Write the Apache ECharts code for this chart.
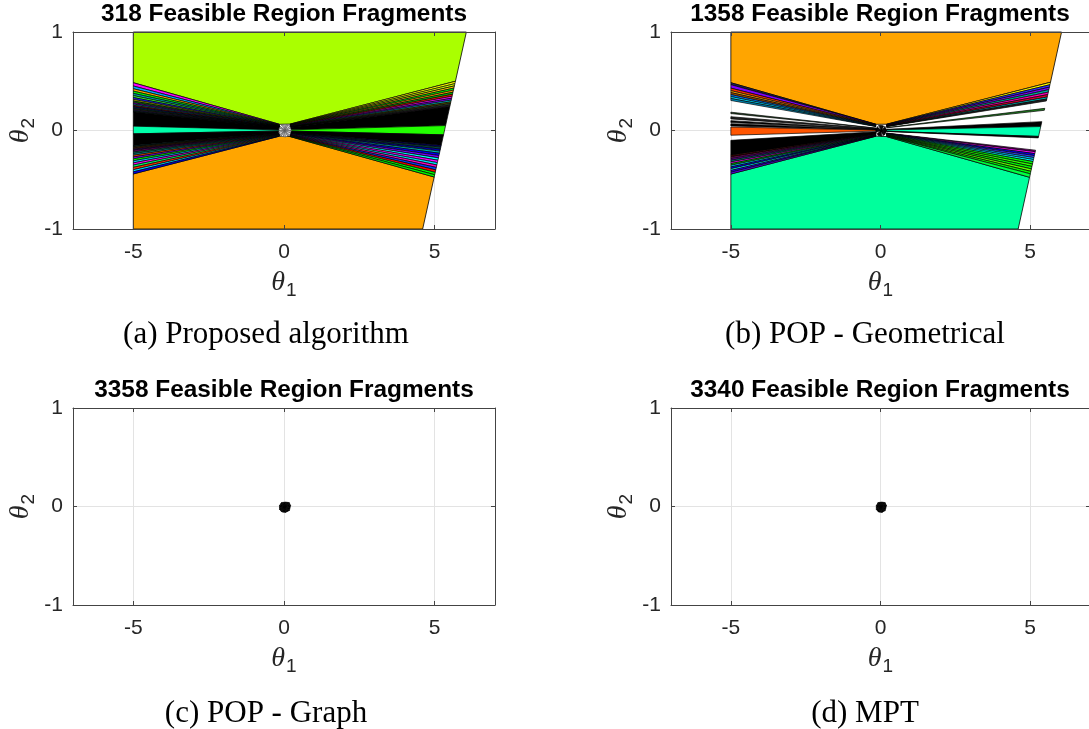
<!DOCTYPE html>
<html>
<head>
<meta charset="utf-8">
<script src="https://cdn.jsdelivr.net/npm/echarts@6/dist/echarts.min.js"></script>
<style>
  html, body { margin: 0; padding: 0; background: #ffffff; }
  #chart { width: 1089px; height: 729px; }
</style>
</head>
<body>
<div id="chart"></div>
<script>
// ---- shared axes ----
const xLimits = [-7, 7];
const yLimits = [-1, 1];
const xTickValues = [-5, 0, 5];
const yTickValues = [-1, 0, 1];

// parameter box: left side at theta1 = -5, slanted right side
const leftSideX = -5;
const rightSide = [[4.6, -1], [6.05, 1]];
// fragments converge to a small neck around the origin
const hubLeftX = -0.15;
const hubRightX = 0.2;
const neck = 0.13;

const panelTitles = [
  '318 Feasible Region Fragments',
  '1358 Feasible Region Fragments',
  '3358 Feasible Region Fragments',
  '3340 Feasible Region Fragments'
];
const panelCaptions = ['(a) Proposed algorithm', '(b) POP - Geometrical', '(c) POP - Graph', '(d) MPT'];

// ---- panel (a): proposed algorithm ----
const aUpperColor = '#AAFF00';
const aLowerColor = '#FFA500';
// region borders on the left side (theta1 = -5), top to bottom
const aLeftEdges = [0.485, 0.452, 0.424, 0.4, 0.377, 0.355, 0.335, 0.316, 0.299, 0.283, 0.269, 0.256, 0.244, 0.233, 0.222, 0.212, 0.2, 0.19,
  0.044, -0.034,
  -0.153, -0.164, -0.176, -0.189, -0.203, -0.218, -0.234, -0.251, -0.269, -0.288, -0.308, -0.329, -0.351, -0.374, -0.398, -0.42, -0.441];
const aLeftColors = ['#FF00FF', '#00AAFF', '#FFA500', '#00FF00', '#00A8A8', '#33FF33', '#2020FF', '#A0A000', '#008800', '#7000C0', '#00A0C0', '#C02000', '#0000C0', '#006060', '#505000', '#302060', '#003030',
  '#000000', '#00FFAA', '#000000',
  '#003838', '#383800', '#602000', '#300060', '#800080', '#008060', '#00A0A0', '#FF4500', '#8000FF', '#00FF00', '#00CCFF', '#FF00FF', '#00FF66', '#FF3300', '#00E0FF', '#0000FF'];
// region borders on the slanted right side, top to bottom
const aRightEdges = [0.5, 0.476, 0.453, 0.431, 0.41, 0.389, 0.368, 0.348, 0.328, 0.309, 0.291, 0.274, 0.258, 0.243,
  0.05, -0.044, -0.15,
  -0.168, -0.188, -0.209, -0.231, -0.254, -0.278, -0.302, -0.326, -0.35, -0.375, -0.4, -0.425, -0.449, -0.472];
const aRightColors = ['#FFFF00', '#CCFF00', '#FFD000', '#00FF00', '#FFA500', '#00CC00', '#FF2000', '#FF00FF', '#8000FF', '#00C0C0', '#606000', '#305030', '#302030',
  '#000000', '#22FF00', '#000000',
  '#000060', '#004848', '#0000B0', '#00B0B0', '#0000FF', '#8000FF', '#00FFFF', '#FF00FF', '#00E0FF', '#FF00C0', '#0040FF', '#FF0000', '#00FF00', '#00FF00'];
const aCore = [[0.24, 0.0], [0.19, 0.045], [0.06, 0.06], [-0.07, 0.055], [-0.16, 0.024], [-0.17, -0.022], [-0.09, -0.058], [0.05, -0.066], [0.19, -0.046]];

// ---- panel (b): POP - geometrical (null = uncovered gap) ----
const bUpperColor = '#FFA500';
const bLowerColor = '#00FF9C';
const bLeftEdges = [0.485, 0.465, 0.43, 0.405, 0.385, 0.365, 0.345, 0.325, 0.305,
  0.186, 0.172, 0.14, 0.118, 0.1, 0.08, 0.068, 0.046, 0.035, -0.048, -0.1,
  -0.25, -0.268, -0.285, -0.302, -0.319, -0.336, -0.353, -0.37, -0.388, -0.406, -0.424, -0.442];
const bLeftColors = ['#202060', '#8000FF', '#FF3000', '#FFA500', '#B05000', '#0080FF', '#00E0FF', '#0090C0',
  null, '#1A401A', null, '#202020', null, '#000000', null, '#000000', null, '#FF5500', null, '#000000',
  '#400000', '#800060', '#6000A0', '#008080', '#FF00FF', '#00C000', '#00E0FF', '#0000FF', '#00FFFF', '#2000FF', '#6000FF'];
const bRightEdges = [0.49, 0.465, 0.44, 0.415, 0.39, 0.365, 0.34, 0.32, 0.3,
  0.225, 0.205, 0.09, 0.04, -0.06, -0.075, -0.2,
  -0.215, -0.235, -0.255, -0.275, -0.295, -0.315, -0.34, -0.365, -0.39, -0.415, -0.44, -0.475];
const bRightColors = ['#FFFF00', '#3030FF', '#8000FF', '#00B0A0', '#FF00C0', '#E00030', '#00C0C0', '#202020',
  null, '#208020', null, '#000000', '#00FFB0', '#000000', null,
  '#800080', '#FF00FF', '#0000FF', '#4040FF', '#00C0FF', '#00FFFF', '#00FF00', '#30FF00', '#00FF00', '#60FF00', '#00FF00', '#00FF40'];
const bCore = [[0.2, 0.0], [0.15, 0.04], [0.05, 0.05], [-0.06, 0.05], [-0.15, 0.02], [-0.15, -0.02], [-0.07, -0.05], [0.05, -0.058], [0.15, -0.04]];

// ---- panels (c), (d): all fragments collapse onto the origin ----
const cCore = [[0.22, 0.01], [0.17, 0.04], [0.05, 0.045], [-0.08, 0.04], [-0.15, 0.01], [-0.15, -0.03], [-0.07, -0.055], [0.05, -0.06], [0.18, -0.04]];
const dCore = [[0.2, 0.01], [0.15, 0.04], [0.04, 0.045], [-0.08, 0.04], [-0.14, 0.01], [-0.14, -0.03], [-0.07, -0.055], [0.05, -0.06], [0.16, -0.04]];

// ---- geometry helpers ----
function sideX(y) {
  const [[x0, y0], [x1, y1]] = rightSide;
  return x0 + (y - y0) * (x1 - x0) / (y1 - y0);
}

function fanPieces(edges, colors, side) {
  const far = y => (side === 'left' ? leftSideX : sideX(y));
  const hx = side === 'left' ? hubLeftX : hubRightX;
  const out = [];
  for (let i = 0; i < edges.length - 1; i++) {
    const c = colors[i];
    if (!c) continue;
    const a = edges[i], b = edges[i + 1];
    out.push({ pts: [[far(a), a], [far(b), b], [hx, b * neck], [hx, a * neck]], fill: c, lw: 0.7 });
  }
  return out;
}

function bigRegions(lEdges, rEdges, upper, lower) {
  const lt = lEdges[0], rt = rEdges[0];
  const lb = lEdges[lEdges.length - 1], rb = rEdges[rEdges.length - 1];
  return [
    { pts: [[leftSideX, 1], [rightSide[1][0], 1], [sideX(rt), rt], [hubRightX, rt * neck], [hubLeftX, lt * neck], [leftSideX, lt]], fill: upper, lw: 0.8 },
    { pts: [[leftSideX, -1], [rightSide[0][0], -1], [sideX(rb), rb], [hubRightX, rb * neck], [hubLeftX, lb * neck], [leftSideX, lb]], fill: lower, lw: 0.8 }
  ];
}

function corePieces(outline, fills, stroke) {
  let cx = 0, cy = 0;
  outline.forEach(p => { cx += p[0]; cy += p[1]; });
  cx /= outline.length; cy /= outline.length;
  const out = [];
  for (let i = 0; i < outline.length; i++) {
    const p = outline[i], q = outline[(i + 1) % outline.length];
    const m = [(p[0] + q[0]) / 2, (p[1] + q[1]) / 2];
    out.push({ pts: [[cx, cy], p, m], fill: fills[(2 * i) % fills.length], stroke: stroke, lw: 0.6 });
    out.push({ pts: [[cx, cy], m, q], fill: fills[(2 * i + 1) % fills.length], stroke: stroke, lw: 0.6 });
  }
  return out;
}

const panelPieces = [
  [].concat(
    bigRegions(aLeftEdges, aRightEdges, aUpperColor, aLowerColor),
    fanPieces(aLeftEdges, aLeftColors, 'left'),
    fanPieces(aRightEdges, aRightColors, 'right'),
    corePieces(aCore, ['#FFFFFF', '#CCCCCC', '#FFFFFF', '#AAAAAA'], '#555555')
  ),
  [].concat(
    bigRegions(bLeftEdges, bRightEdges, bUpperColor, bLowerColor),
    fanPieces(bLeftEdges, bLeftColors, 'left'),
    fanPieces(bRightEdges, bRightColors, 'right'),
    corePieces(bCore, ['#000000', '#000000', '#FFFFFF', '#000000'], '#000000')
  ),
  corePieces(cCore, ['#000000'], '#000000'),
  corePieces(dCore, ['#000000'], '#000000')
];

// ---- layout ----
const panelRects = [[73, 32, 422, 197], [671, 32, 419, 197], [73, 408, 422, 197], [671, 408, 419, 197]];
const captionCenters = [[266, 319], [865, 319], [266, 698], [865, 698]];

const ink = '#262626';
const nameRich = {
  t: { fontFamily: 'Liberation Serif', fontStyle: 'italic', fontSize: 28, color: ink },
  s: { fontFamily: 'Liberation Sans', fontSize: 19, color: ink, padding: [15, 0, 0, 1] }
};

const grids = [], xAxes = [], yAxes = [], series = [], titles = [];

panelRects.forEach((r, p) => {
  const [l, t, w, h] = r;
  const gMain = grids.length;
  grids.push({ left: l, top: t, width: w, height: h, outerBoundsMode: 'none' });
  const gFrame = grids.length;
  grids.push({ left: l, top: t, width: w, height: h, outerBoundsMode: 'none' });

  const xm = xAxes.length;
  // grid lines (under the regions)
  xAxes.push({
    type: 'value', gridIndex: gMain, min: xLimits[0], max: xLimits[1], z: 0,
    axisLine: { show: false }, axisLabel: { show: false },
    axisTick: { show: false, customValues: xTickValues },
    splitLine: { show: true, lineStyle: { color: '#E3E3E3', width: 1 } }
  });
  // box, ticks and labels (over the regions)
  xAxes.push({
    type: 'value', gridIndex: gFrame, position: 'bottom', min: xLimits[0], max: xLimits[1], z: 8,
    axisLine: { show: true, onZero: false, lineStyle: { color: '#444444', width: 1 } },
    axisTick: { show: true, inside: true, length: 4, customValues: xTickValues, lineStyle: { color: '#444444' } },
    axisLabel: { customValues: xTickValues, color: ink, fontFamily: 'Liberation Sans', fontSize: 21, margin: 13 },
    splitLine: { show: false },
    name: '{t|θ}{s|1}', nameLocation: 'middle', nameGap: 37,
    nameTextStyle: { color: ink, rich: nameRich }
  });
  xAxes.push({
    type: 'value', gridIndex: gFrame, position: 'top', min: xLimits[0], max: xLimits[1], z: 8,
    axisLine: { show: true, onZero: false, lineStyle: { color: '#444444', width: 1 } },
    axisTick: { show: true, inside: true, length: 4, customValues: xTickValues, lineStyle: { color: '#444444' } },
    axisLabel: { show: false }, splitLine: { show: false }
  });

  const ym = yAxes.length;
  yAxes.push({
    type: 'value', gridIndex: gMain, min: yLimits[0], max: yLimits[1], interval: 1, z: 0,
    axisLine: { show: false }, axisLabel: { show: false }, axisTick: { show: false },
    splitLine: { show: true, lineStyle: { color: '#E3E3E3', width: 1 } }
  });
  yAxes.push({
    type: 'value', gridIndex: gFrame, position: 'left', min: yLimits[0], max: yLimits[1], interval: 1, z: 8,
    axisLine: { show: true, onZero: false, lineStyle: { color: '#444444', width: 1 } },
    axisTick: { show: true, inside: true, length: 4, lineStyle: { color: '#444444' } },
    axisLabel: { color: ink, fontFamily: 'Liberation Sans', fontSize: 21, margin: 10 },
    splitLine: { show: false },
    name: '{t|θ}{s|2}', nameLocation: 'middle', nameRotate: 90, nameGap: 35,
    nameTextStyle: { color: ink, rich: nameRich }
  });
  yAxes.push({
    type: 'value', gridIndex: gFrame, position: 'right', min: yLimits[0], max: yLimits[1], interval: 1, z: 8,
    axisLine: { show: true, onZero: false, lineStyle: { color: '#444444', width: 1 } },
    axisTick: { show: true, inside: true, length: 4, lineStyle: { color: '#444444' } },
    axisLabel: { show: false }, splitLine: { show: false }
  });

  const pieces = panelPieces[p];
  series.push({
    type: 'custom', xAxisIndex: xm, yAxisIndex: ym, z: 2,
    silent: true, animation: false,
    data: pieces.map(pc => pc.pts[0]),
    renderItem: (params, api) => {
      const pc = pieces[params.dataIndex];
      return {
        type: 'polygon',
        shape: { points: pc.pts.map(pt => api.coord(pt)) },
        style: { fill: pc.fill, stroke: pc.stroke || '#000000', lineWidth: pc.lw }
      };
    }
  });

  titles.push({
    text: panelTitles[p], left: l + (p % 2 === 1 ? 209 : w / 2), top: t - 30, textAlign: 'center', padding: 0,
    textStyle: { fontFamily: 'Liberation Sans', fontWeight: 'bold', fontSize: 24.4, color: '#000000' }
  });
  titles.push({
    text: panelCaptions[p], left: captionCenters[p][0], top: captionCenters[p][1], textAlign: 'center', padding: 0,
    textStyle: { fontFamily: 'Liberation Serif', fontWeight: 'normal', fontSize: 31, color: '#000000' }
  });
});

const chart = echarts.init(document.getElementById('chart'));
chart.setOption({
  backgroundColor: '#ffffff',
  animation: false,
  title: titles,
  grid: grids,
  xAxis: xAxes,
  yAxis: yAxes,
  series: series
});
</script>
</body>
</html>
